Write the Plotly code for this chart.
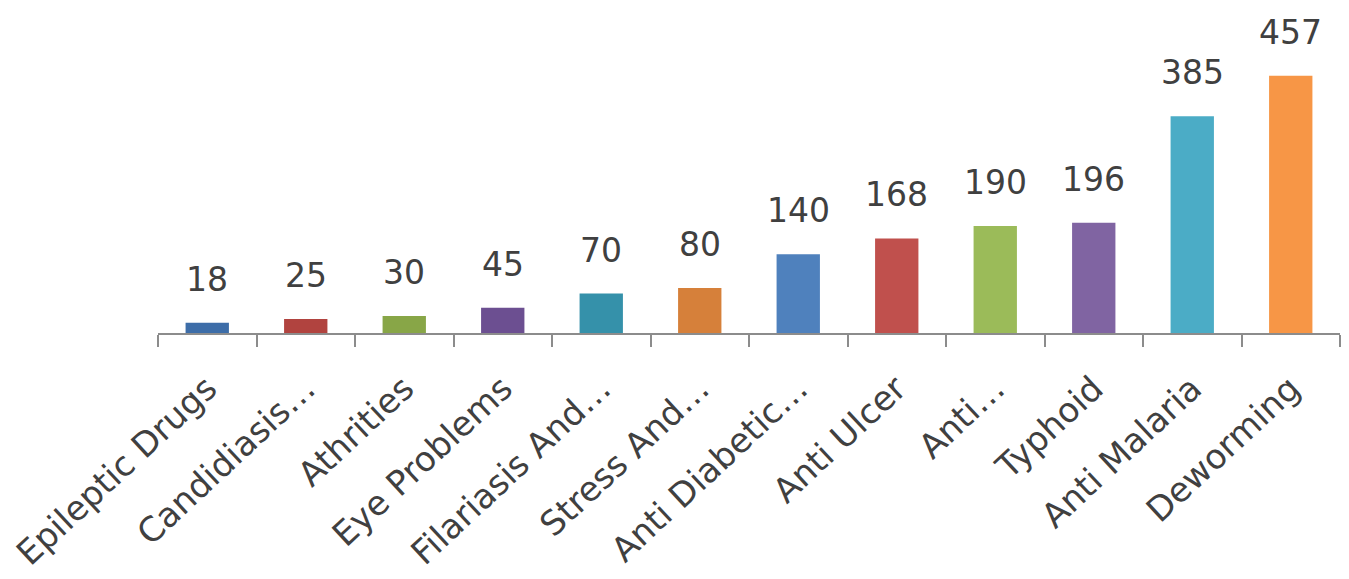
import plotly.graph_objects as go

categories = ["Epileptic Drugs", "Candidiasis…", "Athrities", "Eye Problems",
              "Filariasis And…", "Stress And…", "Anti Diabetic…", "Anti Ulcer",
              "Anti…", "Typhoid", "Anti Malaria", "Deworming"]
values = [18, 25, 30, 45, 70, 80, 140, 168, 190, 196, 385, 457]
colors = ["#3D6DA8", "#B1433F", "#88A647", "#6C4F91", "#3591AA", "#D6803A",
          "#4F81BD", "#C0504D", "#9BBB59", "#8064A2", "#4BACC6", "#F79646"]

FONT = "DejaVu Sans"
TXT = "#404040"

fig = go.Figure()
fig.add_trace(go.Bar(
    x=categories, y=values, marker=dict(color=colors, line=dict(width=0)),
    width=0.44, hoverinfo="x+y",
))

for c, v in zip(categories, values):
    fig.add_annotation(x=c, y=v, text=str(v), showarrow=False,
                       yanchor="bottom", yshift=22,
                       font=dict(family=FONT, size=33, color=TXT))

fig.update_layout(
    width=1349, height=579,
    margin=dict(l=150, r=17, t=12, b=254),
    paper_bgcolor="white", plot_bgcolor="white",
    showlegend=False,
    xaxis=dict(
        type="category", tickson="boundaries", ticks="outside", ticklen=12,
        tickwidth=2, tickcolor="#8C8C8C", showline=True, linecolor="#8C8C8C",
        linewidth=2, showgrid=False, tickangle=-43, automargin=False,
        ticklabelstandoff=20,
        tickfont=dict(family=FONT, size=34, color=TXT),
    ),
    yaxis=dict(range=[0, 556], visible=False, showgrid=False, zeroline=False,
               automargin=False),
)

fig.write_html("out.html")
